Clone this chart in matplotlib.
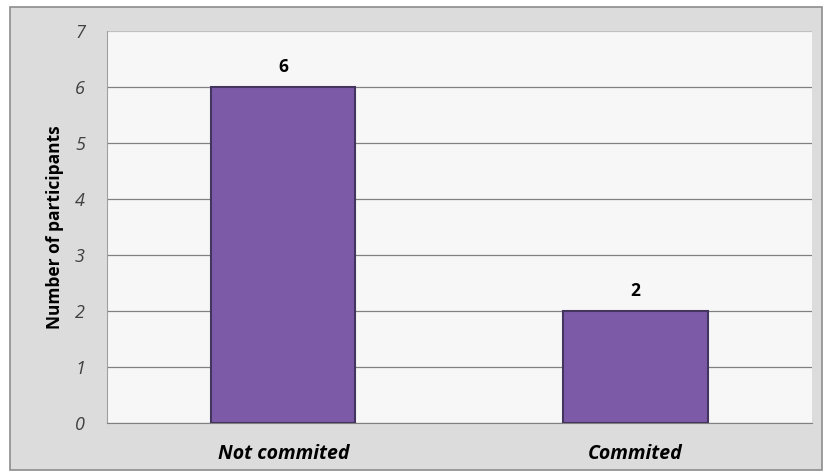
import matplotlib.pyplot as plt
from matplotlib.patches import Rectangle

categorias = ["Not commited", "Commited"]
participantes = [6, 2]
ticks_y = [0, 1, 2, 3, 4, 5, 6, 7]

plt.rcParams["font.family"] = ["Open Sans", "DejaVu Sans"]

fig = plt.figure(figsize=(8.24, 4.75), dpi=100)
fig.patch.set_facecolor("white")

# Moldura cinza do grafico (atras dos eixos)
fundo = Rectangle((0.012, 0.01), 0.985, 0.975, transform=fig.transFigure,
                  facecolor="#dcdcdc", edgecolor="#8c8c8c", linewidth=1.2, zorder=-10)
fig.add_artist(fundo)

ax = fig.add_axes([0.130, 0.1095, 0.855, 0.825])
ax.set_facecolor("#f7f7f7")

x = range(len(categorias))
barras = ax.bar(x, participantes, width=0.41, color="#7d5aa8",
                edgecolor="#43355e", linewidth=1.5, zorder=3)

for xi, v in zip(x, participantes):
    ax.text(xi, v + 0.2, str(v), ha="center", va="bottom",
            fontsize=12.5, fontweight="bold", color="black")

ax.set_xlim(-0.5, 1.5)
ax.set_ylim(0, 7)
ax.set_yticks(ticks_y)
ax.set_yticklabels([str(t) for t in ticks_y], fontstyle="italic",
                   fontsize=13, color="#404040")
ax.set_xticks(list(x))
ax.set_xticklabels(categorias, fontstyle="italic", fontweight="bold",
                   fontsize=14, color="black")
ax.tick_params(axis="y", length=0, pad=16)
ax.tick_params(axis="x", length=0, pad=15)
ax.grid(axis="y", color="#808080", linewidth=0.9, zorder=1)
ax.set_axisbelow(True)
ax.get_ygridlines()[-1].set_color("#c0c0c0")

for lado in ["top", "right"]:
    ax.spines[lado].set_visible(False)
ax.spines["left"].set_color("#a0a0a0")
ax.spines["bottom"].set_color("#808080")

ax.set_ylabel("Number of participants", fontsize=12.5, fontweight="bold",
              color="black", labelpad=8)

fig.savefig("out.png", dpi=100, facecolor=fig.get_facecolor())
